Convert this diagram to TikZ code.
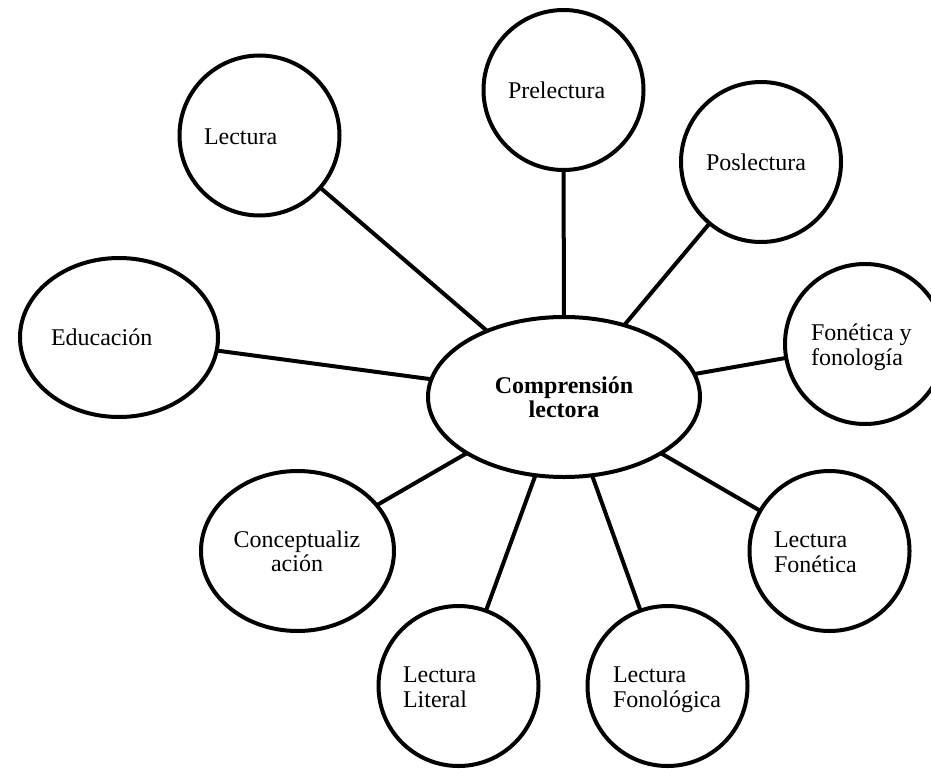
\documentclass[tikz,border=0pt]{standalone}
\usepackage{fontspec}
\setmainfont{Liberation Serif}
\usetikzlibrary{shapes.geometric}
\begin{document}
\begin{tikzpicture}[x=1pt,y=-1pt,
  bubble/.style={draw, line width=4pt, circle, minimum size=160pt, inner sep=0pt, outer sep=0pt},
  oval/.style={draw, line width=4pt, ellipse, inner sep=0pt, outer sep=0pt},
  lbl/.style={anchor=base west, inner sep=0pt, outer sep=0pt, font=\fontsize{24}{25}\selectfont},
  clbl/.style={anchor=base, inner sep=0pt, outer sep=0pt, font=\fontsize{24}{25}\selectfont},
  blbl/.style={anchor=base, inner sep=0pt, outer sep=0pt, font=\fontsize{24}{25}\selectfont\bfseries},
  link/.style={line width=4pt}]
\useasboundingbox (0,0) rectangle (931,768);
\clip (0,0) rectangle (931,768);

% shapes
\node[oval, minimum width=272pt, minimum height=160pt] (center) at (564,397) {};
\node[oval, minimum width=198pt, minimum height=159pt] (educ) at (119,337.5) {};
\node[oval, minimum width=193pt, minimum height=160pt] (concept) at (297.5,551) {};
\node[bubble] (lect) at (259.5,135.5) {};
\node[bubble] (pre) at (563.5,90) {};
\node[bubble] (pos) at (761,162) {};
\node[bubble] (fon) at (865,344) {};
\node[bubble] (lfon) at (829.5,551) {};
\node[bubble] (lit) at (458.5,686) {};
\node[bubble] (lfono) at (667.5,686) {};

% connectors
\draw[link] (center) -- (lect);
\draw[link] (center) -- (pre);
\draw[link] (center) -- (pos);
\draw[link] (center) -- (fon);
\draw[link] (center) -- (lfon);
\draw[link] (center) -- (lfono);
\draw[link] (center) -- (lit);
\draw[link] (center) -- (concept);
\draw[link] (center) -- (educ);

% texts
\node[blbl] (tc1) at (564,393) {Comprensión};
\node[blbl] (tc2) at (564,417) {lectora};
\node[lbl] (tlect) at (204,144) {Lectura};
\node[lbl] (teduc) at (51,345) {Educación};
\node[lbl] (tpre) at (508,98) {Prelectura};
\node[lbl] (tpos) at (706,170) {Poslectura};
\node[lbl] (tfon1) at (811,340) {Fonética y};
\node[lbl] (tfon2) at (811,365) {fonología};
\node[clbl] (tcon1) at (297,547) {Conceptualiz};
\node[clbl] (tcon2) at (297,571) {ación};
\node[lbl] (tlit1) at (403,682) {Lectura};
\node[lbl] (tlit2) at (403,707) {Literal};
\node[lbl] (tlfono1) at (613,682) {Lectura};
\node[lbl] (tlfono2) at (613,707) {Fonológica};
\node[lbl] (tlfon1) at (774,547) {Lectura};
\node[lbl] (tlfon2) at (774,572) {Fonética};
\end{tikzpicture}
\end{document}
